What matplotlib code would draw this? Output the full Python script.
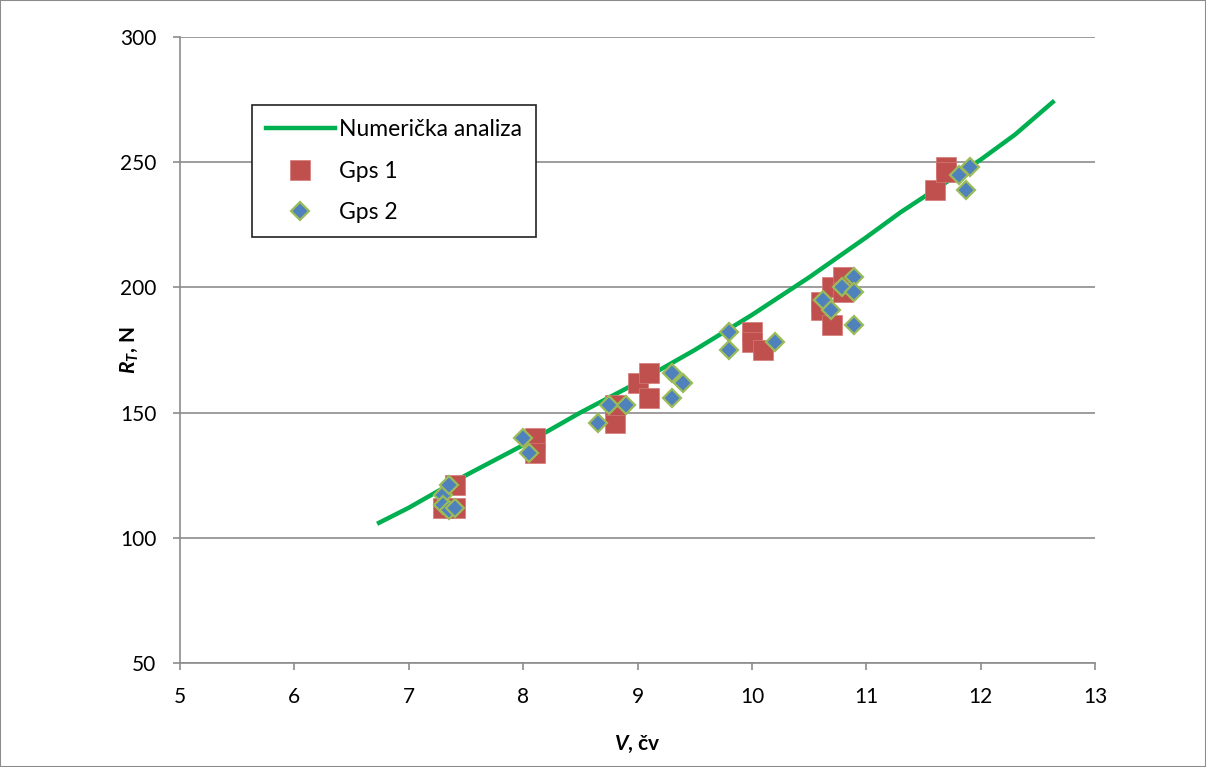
import matplotlib
matplotlib.use("Agg")
import matplotlib.pyplot as plt
from matplotlib.patches import Rectangle

plt.rcParams['font.family'] = ['Lato', 'DejaVu Sans']
plt.rcParams['mathtext.fontset'] = 'custom'
plt.rcParams['mathtext.it'] = 'Lato:italic:bold'
plt.rcParams['mathtext.rm'] = 'Lato:bold'

# numerical analysis curve
num_v = [6.74, 7.0, 7.5, 8.0, 8.5, 9.0, 9.5, 10.0, 10.5, 11.0, 11.3, 11.5, 12.0, 12.3, 12.63]
num_r = [106, 112, 125, 137, 150, 162, 175, 189, 204, 220, 230, 236, 251, 261, 274]

# Gps 1
gps1_v = [7.3, 7.4, 7.4, 8.1, 8.1, 8.8, 8.8, 9.0, 9.1, 9.1, 10.0, 10.0, 10.1,
          10.6, 10.6, 10.7, 10.7, 10.8, 10.8, 11.6, 11.7, 11.7]
gps1_r = [112, 112, 121, 140, 134, 146, 153, 162, 166, 156, 182, 178, 175,
          194, 191, 200, 185, 204, 198, 239, 248, 246]

# Gps 2
gps2_v = [7.3, 7.35, 7.3, 7.35, 7.4, 8.0, 8.05, 8.65, 8.75, 8.9, 9.3, 9.4, 9.3,
          9.8, 9.8, 10.2, 10.62, 10.69, 10.79, 10.89, 10.89, 10.89, 11.81, 11.91, 11.87]
gps2_r = [117, 121, 113, 111, 112, 140, 134, 146, 153, 153, 166, 162, 156,
          182, 175, 178, 195, 191, 200, 204, 198, 185, 245, 248, 239]

fig = plt.figure(figsize=(12.06, 7.67), dpi=100)
ax = fig.add_axes([0.1493, 0.1356, 0.7587, 0.8162])

ax.plot(num_v, num_r, color='#00B050', linewidth=3.2, label='Numerička analiza', zorder=2)
ax.plot(gps1_v, gps1_r, linestyle='none', marker='s', markersize=14,
        color='#C0504D', markeredgecolor='#D47A77', markeredgewidth=0.5, label='Gps 1', zorder=3)
ax.plot(gps2_v, gps2_r, linestyle='none', marker='D', markersize=9.5,
        color='#4F81BD', markeredgecolor='#9BBB59', markeredgewidth=1.6, label='Gps 2', zorder=4)

ax.set_xlim(5, 13)
ax.set_ylim(50, 300)
ax.set_xticks(range(5, 14))
ax.set_yticks(range(50, 301, 50))
ax.yaxis.grid(True, color='#8C8C8C', linewidth=1.2)
ax.set_axisbelow(True)
for s in ['top', 'right']:
    ax.spines[s].set_visible(False)
for s in ['left', 'bottom']:
    ax.spines[s].set_color('#8C8C8C')
    ax.spines[s].set_linewidth(1.2)
ax.tick_params(axis='both', labelsize=15, color='#8C8C8C', length=5, width=1.2)
ax.tick_params(axis='x', pad=12)
ax.tick_params(axis='y', pad=12)

ax.set_xlabel(r'$V$, čv', fontsize=15, fontweight='bold', labelpad=20)
ax.set_ylabel(r'$R_T$, N', fontsize=15, fontweight='bold', labelpad=-14)

leg = ax.legend(loc='upper left', bbox_to_anchor=(0.0787, 0.891), borderaxespad=0,
                fontsize=16.5, fancybox=False, framealpha=1, edgecolor='#222222',
                handlelength=3.0, handletextpad=0.2, labelspacing=0.9, borderpad=0.6)
leg.get_frame().set_linewidth(1.2)

fig.patches.append(Rectangle((0.0, 0.0), 1, 1, transform=fig.transFigure, fill=False,
                             edgecolor='#8C8C8C', linewidth=1.5))

fig.savefig('out.png', dpi=100)
